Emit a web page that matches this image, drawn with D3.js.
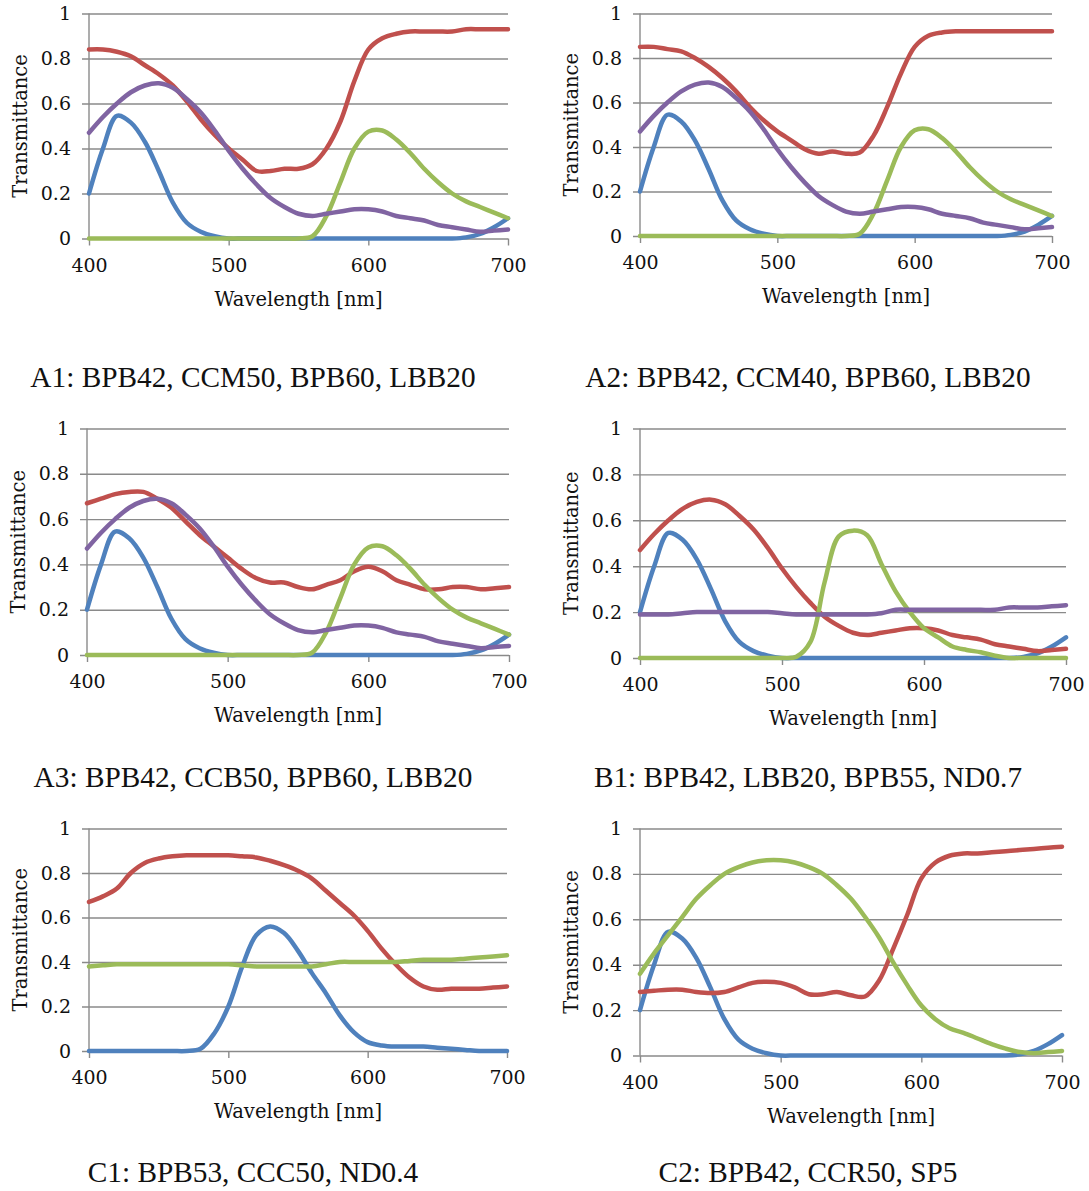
<!DOCTYPE html>
<html>
<head>
<meta charset="utf-8">
<script src="https://cdn.jsdelivr.net/npm/d3@7"></script>
<style>
  body { margin: 0; background: #fff; }
  .tick text, .lab { font-family: "DejaVu Serif", serif; fill: #111; }
  .cap { font-family: "Liberation Serif", "Times New Roman", serif; fill: #111; }
</style>
</head>
<body>
<svg id="chart" width="1089" height="1191"></svg>
<script>
// wavelength samples (nm)
var wavelengths = [400,410,420,430,440,450,460,470,480,490,500,510,520,530,540,550,560,570,580,590,600,610,620,630,640,650,660,670,680,690,700];
var xTicks = [400, 500, 600, 700];
var yTicks = [0, 0.2, 0.4, 0.6, 0.8, 1];

// filter transmittance
var bpb42 = [0.20,0.40,0.545,0.515,0.43,0.30,0.16,0.07,0.03,0.01,0,0,0,0,0,0,0,0,0,0,0,0,0,0,0,0,0,0.005,0.02,0.05,0.09];
var lbb20 = [0.47,0.54,0.60,0.65,0.68,0.69,0.67,0.62,0.56,0.48,0.39,0.31,0.24,0.18,0.14,0.11,0.10,0.11,0.12,0.13,0.13,0.12,0.10,0.09,0.08,0.06,0.05,0.04,0.03,0.035,0.04];
var bpb60 = [0,0,0,0,0,0,0,0,0,0,0,0,0,0,0,0,0.01,0.10,0.25,0.40,0.475,0.48,0.44,0.38,0.31,0.25,0.20,0.165,0.14,0.115,0.09];
var ccm50 = [0.84,0.84,0.83,0.81,0.77,0.73,0.68,0.61,0.53,0.46,0.40,0.35,0.30,0.30,0.31,0.31,0.33,0.40,0.52,0.70,0.84,0.89,0.91,0.92,0.92,0.92,0.92,0.93,0.93,0.93,0.93];
var ccm40 = [0.85,0.85,0.84,0.83,0.80,0.76,0.71,0.65,0.58,0.52,0.47,0.43,0.39,0.37,0.38,0.37,0.375,0.45,0.58,0.73,0.85,0.90,0.915,0.92,0.92,0.92,0.92,0.92,0.92,0.92,0.92];
var ccb50 = [0.67,0.69,0.71,0.72,0.72,0.69,0.65,0.59,0.53,0.48,0.43,0.38,0.34,0.32,0.32,0.30,0.29,0.31,0.33,0.37,0.39,0.37,0.33,0.31,0.29,0.29,0.30,0.30,0.29,0.295,0.30];
var bpb55 = [0,0,0,0,0,0,0,0,0,0,0,0.005,0.07,0.33,0.53,0.555,0.535,0.41,0.29,0.20,0.13,0.09,0.05,0.035,0.025,0.01,0,0,0,0,0];
var nd07  = [0.19,0.19,0.19,0.195,0.20,0.20,0.20,0.20,0.20,0.20,0.195,0.19,0.19,0.19,0.19,0.19,0.19,0.195,0.21,0.21,0.21,0.21,0.21,0.21,0.21,0.21,0.22,0.22,0.22,0.225,0.23];
var bpb53 = [0,0,0,0,0,0,0,0,0.01,0.08,0.20,0.38,0.52,0.56,0.53,0.45,0.35,0.26,0.16,0.085,0.04,0.025,0.02,0.02,0.02,0.015,0.01,0.005,0,0,0];
var ccc50 = [0.67,0.695,0.73,0.80,0.845,0.865,0.875,0.88,0.88,0.88,0.88,0.875,0.87,0.855,0.835,0.81,0.775,0.72,0.665,0.61,0.54,0.46,0.39,0.33,0.29,0.275,0.28,0.28,0.28,0.285,0.29];
var nd04  = [0.38,0.385,0.39,0.39,0.39,0.39,0.39,0.39,0.39,0.39,0.39,0.385,0.38,0.38,0.38,0.38,0.38,0.39,0.40,0.40,0.40,0.40,0.40,0.405,0.41,0.41,0.41,0.415,0.42,0.425,0.43];
var sp5   = [0.36,0.45,0.53,0.61,0.69,0.75,0.80,0.83,0.85,0.86,0.86,0.85,0.83,0.80,0.75,0.69,0.61,0.52,0.41,0.31,0.22,0.16,0.12,0.10,0.075,0.05,0.03,0.015,0.01,0.015,0.02];
var ccr50 = [0.28,0.285,0.29,0.29,0.28,0.275,0.28,0.30,0.32,0.325,0.32,0.30,0.27,0.27,0.28,0.265,0.26,0.33,0.47,0.62,0.78,0.85,0.88,0.89,0.89,0.895,0.90,0.905,0.91,0.915,0.92];

var blue = "#4F81BD", red = "#C0504D", green = "#9BBB59", purple = "#8064A2";

var panels = [
  { caption: "A1: BPB42, CCM50, BPB60, LBB20", x0: 89, x1: 508, y0: 238.5, y1: 13.5, cx: 253, cy: 387,
    series: [[bpb42, blue], [ccm50, red], [bpb60, green], [lbb20, purple]] },
  { caption: "A2: BPB42, CCM40, BPB60, LBB20", x0: 640, x1: 1052, y0: 236, y1: 13.5, cx: 808, cy: 387,
    series: [[bpb42, blue], [ccm40, red], [bpb60, green], [lbb20, purple]] },
  { caption: "A3: BPB42, CCB50, BPB60, LBB20", x0: 87, x1: 509, y0: 655, y1: 428.5, cx: 253, cy: 787,
    series: [[bpb42, blue], [ccb50, red], [bpb60, green], [lbb20, purple]] },
  { caption: "B1: BPB42, LBB20, BPB55, ND0.7", x0: 640, x1: 1066, y0: 658, y1: 428.5, cx: 808, cy: 787,
    series: [[bpb42, blue], [lbb20, red], [bpb55, green], [nd07, purple]] },
  { caption: "C1: BPB53, CCC50, ND0.4", x0: 89, x1: 507, y0: 1051, y1: 828.5, cx: 253, cy: 1182,
    series: [[bpb53, blue], [ccc50, red], [nd04, green]] },
  { caption: "C2: BPB42, CCR50, SP5", x0: 640, x1: 1062, y0: 1055.5, y1: 828.5, cx: 808, cy: 1182,
    series: [[bpb42, blue], [ccr50, red], [sp5, green]] }
];

var svg = d3.select("#chart");
var grey = "#8a8a8a";

panels.forEach(function(p) {
  var x = d3.scaleLinear().domain([400, 700]).range([p.x0, p.x1]);
  var y = d3.scaleLinear().domain([0, 1]).range([p.y0, p.y1]);
  var g = svg.append("g");

  // horizontal gridlines + y labels
  var ya = g.append("g")
    .attr("transform", "translate(" + p.x0 + ",0)")
    .call(d3.axisLeft(y).tickValues(yTicks).tickSize(-(p.x1 - p.x0)).tickPadding(18)
      .tickFormat(function(d) { return d === 0 || d === 1 ? d : d.toFixed(1); }));
  ya.select(".domain").remove();
  ya.selectAll(".tick line").attr("x1", -7).attr("stroke", grey).attr("stroke-width", 1.4);
  ya.selectAll(".tick text").style("font-size", "19px");

  // vertical axis line
  g.append("line").attr("x1", p.x0).attr("x2", p.x0).attr("y1", p.y1).attr("y2", p.y0)
    .attr("stroke", grey).attr("stroke-width", 1.4);

  // x axis
  var xa = g.append("g")
    .attr("transform", "translate(0," + p.y0 + ")")
    .call(d3.axisBottom(x).tickValues(xTicks).tickSize(7).tickPadding(13));
  xa.select(".domain").remove();
  xa.selectAll(".tick line").attr("stroke", grey).attr("stroke-width", 1.4);
  xa.selectAll(".tick text").style("font-size", "19px");

  // lines
  var line = d3.line()
    .x(function(d, i) { return x(wavelengths[i]); })
    .y(function(d) { return y(d); })
    .curve(d3.curveCatmullRom.alpha(0.5));
  p.series.forEach(function(s) {
    g.append("path").attr("d", line(s[0]))
      .attr("fill", "none").attr("stroke", s[1]).attr("stroke-width", 4.5)
      .attr("stroke-linejoin", "round").attr("stroke-linecap", "round");
  });

  // axis titles
  g.append("text").attr("class", "lab")
    .attr("x", (p.x0 + p.x1) / 2).attr("y", p.y0 + 67)
    .attr("text-anchor", "middle").style("font-size", "19.5px")
    .text("Wavelength [nm]");
  g.append("text").attr("class", "lab")
    .attr("transform", "translate(" + (p.x0 - 62) + "," + ((p.y0 + p.y1) / 2) + ") rotate(-90)")
    .attr("text-anchor", "middle").style("font-size", "19.5px")
    .text("Transmittance");

  // caption
  g.append("text").attr("class", "cap")
    .attr("x", p.cx).attr("y", p.cy)
    .attr("text-anchor", "middle").style("font-size", "29.3px")
    .text(p.caption);
});
</script>
</body>
</html>
